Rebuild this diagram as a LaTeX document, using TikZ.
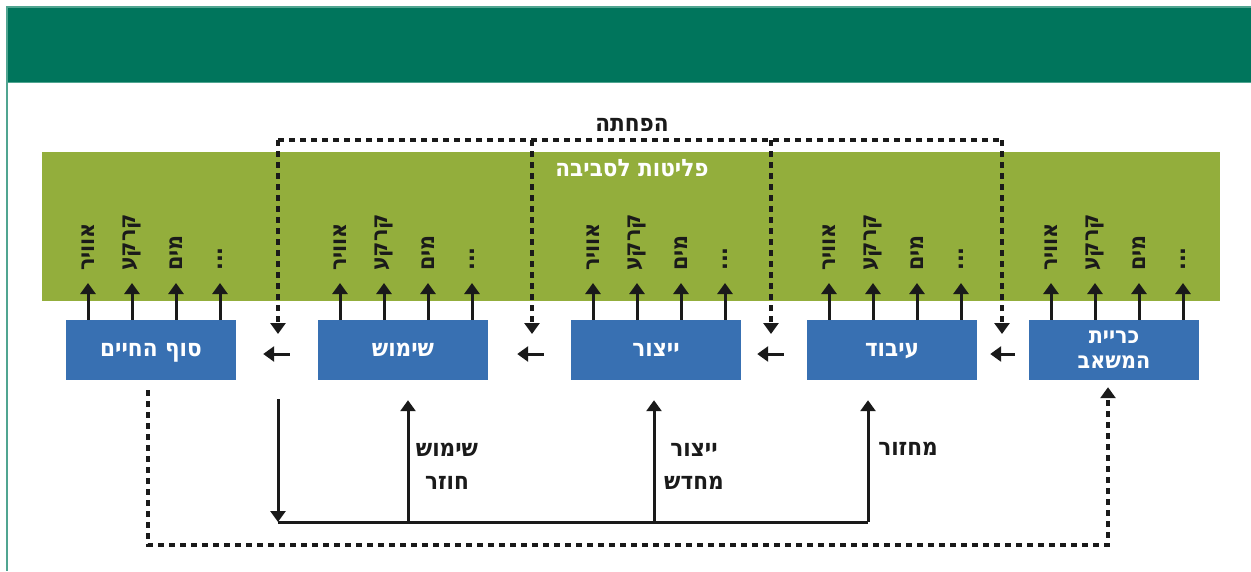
\documentclass[tikz,border=0pt]{standalone}
\usepackage{fontspec}
\setmainfont{Liberation Sans}
\newfontfamily\heb[Script=Hebrew]{DejaVu Sans Condensed}
\TeXXeTstate=1
\usetikzlibrary{arrows.meta}
\definecolor{bannerteal}{RGB}{0,117,92}
\definecolor{frameteal}{RGB}{80,165,145}
\definecolor{bandgreen}{RGB}{147,174,60}
\definecolor{boxblue}{RGB}{56,112,178}
\definecolor{ink}{RGB}{26,26,26}
\newcommand\hb[1]{\beginR #1\endR}
\newcommand\dotstxt{...}
\newcommand\mainfnt{\heb\bfseries\fontsize{24}{26}\selectfont}
\newcommand\vfnt{\heb\bfseries\fontsize{23}{25}\selectfont}
\tikzset{
  box/.style={fill=boxblue, minimum width=170pt, minimum height=60pt, inner sep=0pt,
    text=white, font=\mainfnt, align=center, text depth=0pt},
  vlab/.style={rotate=90, anchor=west, inner sep=0pt, text=ink, font=\vfnt},
  blab/.style={inner sep=0pt, text=ink, font=\mainfnt, align=center},
  tip/.style={-{Triangle[width=15pt,length=11pt]}},
  flow/.style={draw=ink, line width=3pt, tip},
  solidline/.style={draw=ink, line width=3pt},
  dots/.style={draw=ink, line width=4pt, dash pattern=on 6pt off 5pt},
  dotflow/.style={dots, tip},
}
\begin{document}
\begin{tikzpicture}[x=1pt, y=-1pt]
\useasboundingbox (0,0) rectangle (1251,571);
% banner and frame
\node[fill=bannerteal, anchor=north west, minimum width=1244pt, minimum height=75pt, inner sep=0pt] (banner) at (7,7) {};
\draw[frameteal, line width=2pt] (1251,7) -- (7,7) -- (7,571);
\draw[frameteal, line width=1.5pt] (banner.south west) -- (banner.south east);
% band
\node[fill=bandgreen, anchor=north west, minimum width=1178pt, minimum height=149pt, inner sep=0pt] (band) at (42,152) {};
\node[text=white, font=\mainfnt, inner sep=0pt] (bandlab) at (632,168) {\hb{פליטות לסביבה}};
% boxes
\node[box] (b1) at (151,350) {\hb{סוף החיים}};
\node[box] (b2) at (403,350) {\hb{שימוש}};
\node[box] (b3) at (656,350) {\hb{ייצור}};
\node[box] (b4) at (892,350) {\hb{עיבוד}};
\node[box, font=\heb\bfseries\fontsize{23}{25}\selectfont] (b5) at (1114,350) {\hb{כריית}\\\hb{המשאב}};
% emissions arrows
\foreach \b/\cx in {b1/151,b2/403,b3/656,b4/892,b5/1114}{
  \foreach \i/\dx/\t in {1/-63/אוויר,2/-19/קרקע,3/25/מים,4/69/\dotstxt}{
    \pgfmathsetmacro\xx{\cx+\dx}
    \node[vlab] (\b-l\i) at (\xx,271) {\hb{\t}};
    \draw[flow, shorten >=12pt] (\b.north -| \b-l\i.west) -- (\b-l\i.west);
  }
}
% flow between boxes
\draw[flow, shorten <=28pt, shorten >=27pt] ([yshift=-4pt]b2.west) -- ([yshift=-4pt]b1.east);
\draw[flow, shorten <=27pt, shorten >=29pt] ([yshift=-4pt]b3.west) -- ([yshift=-4pt]b2.east);
\draw[flow, shorten <=23pt, shorten >=16pt] ([yshift=-4pt]b4.west) -- ([yshift=-4pt]b3.east);
\draw[flow, shorten <=14pt, shorten >=13pt] ([yshift=-4pt]b5.west) -- ([yshift=-4pt]b4.east);
% reduction (dotted, top)
\coordinate (d1) at (278,140);
\coordinate (d2) at (532,140);
\coordinate (d3) at (771,140);
\coordinate (d4) at (1002,140);
\node[blab] (redlab) at (632,125) {\hb{הפחתה}};
\draw[dots] (d1) -- (d4);
\foreach \d in {d1,d2,d3,d4}{
  \draw[dotflow, shorten >=16pt] (\d) -- (\d |- b1.center);
}
% bottom loop (solid)
\coordinate (r0) at (278,399);
\coordinate (r1) at (278,522);
\coordinate (r2) at (868,522);
\coordinate (u2) at (408,522);
\coordinate (u3) at (654,522);
\draw[flow] (r0) -- (r1);
\draw[solidline] (r1) -- (r2);
\draw[flow, shorten >=20pt] (r2) -- (r2 |- b4.south);
\draw[flow, shorten >=20pt] (u2) -- (u2 |- b2.south);
\draw[flow, shorten >=20pt] (u3) -- (u3 |- b3.south);
\node[blab, font=\heb\bfseries\fontsize{24}{33}\selectfont] (lab2) at (447,466) {\hb{שימוש}\\\hb{חוזר}};
\node[blab, font=\heb\bfseries\fontsize{24}{33}\selectfont] (lab3) at (694,466) {\hb{ייצור}\\\hb{מחדש}};
\node[blab] (lab4) at (908,449) {\hb{מחזור}};
% bottom dotted loop
\coordinate (e1) at (148,545);
\coordinate (e2) at (1108,545);
\draw[dotflow, shorten <=10pt, shorten >=7pt] (b1.south -| e1) -- (e1) -- (e2) -- (b5.south -| e2);
\end{tikzpicture}
\end{document}
